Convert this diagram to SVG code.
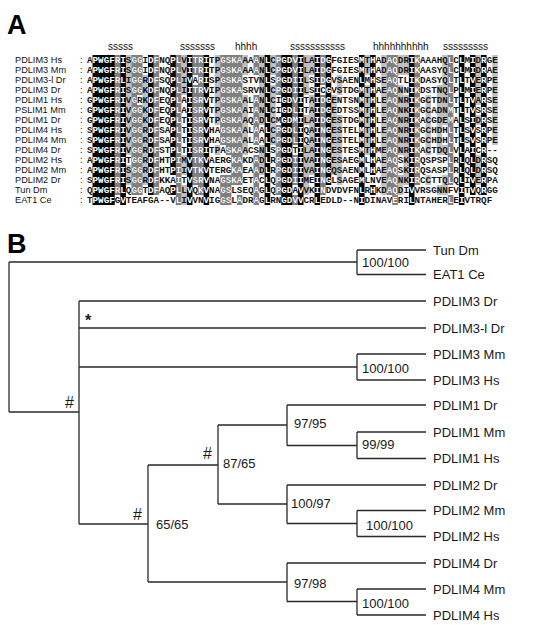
<svg xmlns="http://www.w3.org/2000/svg" xmlns:xlink="http://www.w3.org/1999/xlink" width="546" height="625" viewBox="0 0 546 625">
<style>
.panel{font-family:"Liberation Sans",Arial,sans-serif;font-weight:bold;fill:#000}
.lab{font-family:"Liberation Sans",Arial,sans-serif;font-size:9.2px;fill:#111}
.ss{font-family:"Liberation Sans",Arial,sans-serif;font-size:10px;fill:#111}
.seq{font-family:"Liberation Mono","Courier New",monospace;font-size:9.25px;font-weight:bold}
.leaf{font-family:"Liberation Sans",Arial,sans-serif;font-size:13px;fill:#1a1a1a}
.sup{font-family:"Liberation Sans",Arial,sans-serif;font-size:13px;fill:#1a1a1a}
.mark{font-family:"Liberation Sans",Arial,sans-serif;font-size:16px;fill:#1a1a1a}
.br{fill:none;stroke:#2a2a2a;stroke-width:1.3}
</style>
<defs>
<path id="blk" d="M92.55 55h22.2V205h-22.2z M120.3 55h5.6V205h-5.6z M148.05 55h5.6V195h-5.6z M170.25 55h5.6V175h-5.6z M170.25 185h5.6v10h-5.6z M186.9 55h5.6V205h-5.6z M203.55 55h5.6V205h-5.6z M264.6 55h5.6V205h-5.6z M281.25 55h11.15V205h-11.15z M297.9 55h5.6V205h-5.6z M314.55 55h5.6V205h-5.6z M325.65 55h5.6V185h-5.6z M358.95 55h5.6V205h-5.6z M370.05 55h5.6V175h-5.6z M370.05 185h5.6v10h-5.6z M408.9 55h5.6V205h-5.6z M458.85 55h5.6V205h-5.6z M469.95 55h5.6V195h-5.6z M481.05 55h5.6V195h-5.6z"/>
<path id="dgy" d="M114.75 55h5.6V195h-5.6z M131.4 55h5.6V195h-5.6z M136.95 55h5.6V95h-5.6z M136.95 105h5.6V195h-5.6z M153.6 55h5.6V195h-5.6z M175.8 55h5.6V205h-5.6z M192.45 55h5.6V75h-5.6z M192.45 85h5.6V185h-5.6z M198 55h5.6V195h-5.6z M220.2 55h5.6V145h-5.6z M220.2 175h5.6V205h-5.6z M225.75 55h5.6V155h-5.6z M225.75 175h5.6V205h-5.6z M231.3 55h5.6V185h-5.6z M236.85 55h5.6V185h-5.6z M236.85 195h5.6v10h-5.6z M253.5 55h5.6V75h-5.6z M253.5 95h5.6V145h-5.6z M253.5 155h5.6V205h-5.6z M275.7 55h5.6V95h-5.6z M275.7 125h5.6V195h-5.6z M292.35 55h5.6V145h-5.6z M292.35 155h5.6V185h-5.6z M292.35 195h5.6v10h-5.6z M320.1 55h5.6V85h-5.6z M320.1 95h5.6V195h-5.6z M386.7 55h5.6V195h-5.6z M392.25 55h5.6V205h-5.6z M414.45 55h5.6V185h-5.6z M447.75 55h5.6V185h-5.6z M447.75 195h5.6v10h-5.6z"/>
<path id="lgy" d="M125.85 55h5.6V155h-5.6z M125.85 165h5.6V185h-5.6z M142.5 75h5.6V185h-5.6z M181.35 55h5.6V95h-5.6z M181.35 155h5.6V175h-5.6z M181.35 185h5.6V205h-5.6z M214.65 55h5.6V125h-5.6z M214.65 145h5.6v10h-5.6z M242.4 55h5.6V75h-5.6z M242.4 95h5.6V155h-5.6z M259.05 55h5.6V125h-5.6z M259.05 145h5.6V175h-5.6z M270.15 55h5.6V75h-5.6z M270.15 85h5.6V145h-5.6z M303.45 55h5.6V95h-5.6z M303.45 115h5.6v10h-5.6z M303.45 145h5.6V195h-5.6z M309 55h5.6V75h-5.6z M309 95h5.6V175h-5.6z M331.2 95h5.6V175h-5.6z M336.75 75h5.6V95h-5.6z M336.75 115h5.6V185h-5.6z M364.5 55h5.6V75h-5.6z M364.5 85h5.6V155h-5.6z M381.15 55h5.6V195h-5.6z M397.8 55h5.6V75h-5.6z M397.8 85h5.6V155h-5.6z M397.8 175h5.6V195h-5.6z M403.35 55h5.6V75h-5.6z M403.35 95h5.6V185h-5.6z M425.55 95h5.6V155h-5.6z M425.55 175h5.6v10h-5.6z M436.65 85h5.6V155h-5.6z M436.65 185h5.6v10h-5.6z M442.2 55h5.6V125h-5.6z M442.2 145h5.6v10h-5.6z M442.2 175h5.6V195h-5.6z M475.5 55h5.6V105h-5.6z M475.5 115h5.6v10h-5.6z M475.5 155h5.6V185h-5.6z M492.15 55h5.6V145h-5.6z"/>
<clipPath id="inv"><use href="#blk"/><use href="#dgy"/></clipPath>
</defs>
<rect width="546" height="625" fill="#fff"/>

<!-- Panel A -->
<g id="panelA">
<text class="panel" x="7" y="34" font-size="27">A</text>
<g id="structure-marks">
<text class="ss" x="108" y="50">sssss</text>
<text class="ss" x="180" y="50">sssssss</text>
<text class="ss" x="235" y="50">hhhh</text>
<text class="ss" x="290" y="50">sssssssssss</text>
<text class="ss" x="373" y="50">hhhhhhhhhh</text>
<text class="ss" x="443" y="50">sssssssss</text>
</g>
<g id="shading">
<use href="#lgy" fill="#c0c0c0"/>
<use href="#dgy" fill="#7f7f7f"/>
<use href="#blk" fill="#000"/>
</g>
<g id="seq-labels" class="lab">
<text x="15" y="63.3">PDLIM3 Hs</text><text x="80" y="63.3">:</text>
<text x="15" y="73.3">PDLIM3 Mm</text><text x="80" y="73.3">:</text>
<text x="15" y="83.3">PDLIM3-l Dr</text><text x="80" y="83.3">:</text>
<text x="15" y="93.3">PDLIM3 Dr</text><text x="80" y="93.3">:</text>
<text x="15" y="103.3">PDLIM1 Hs</text><text x="80" y="103.3">:</text>
<text x="15" y="113.3">PSLIM1 Mm</text><text x="80" y="113.3">:</text>
<text x="15" y="123.3">PDLIM1 Dr</text><text x="80" y="123.3">:</text>
<text x="15" y="133.3">PDLIM4 Hs</text><text x="80" y="133.3">:</text>
<text x="15" y="143.3">PDLIM4 Mm</text><text x="80" y="143.3">:</text>
<text x="15" y="153.3">PDLIM4 Dr</text><text x="80" y="153.3">:</text>
<text x="15" y="163.3">PDLIM2 Hs</text><text x="80" y="163.3">:</text>
<text x="15" y="173.3">PDLIM2 Mm</text><text x="80" y="173.3">:</text>
<text x="15" y="183.3">PDLIM2 Dr</text><text x="80" y="183.3">:</text>
<text x="15" y="193.3">Tun Dm</text><text x="80" y="193.3">:</text>
<text x="15" y="203.3">EAT1 Ce</text><text x="80" y="203.3">:</text>
</g>
<g fill="#111">
<g id="seqs" class="seq">
<text x="87" y="63.3">APWGFRISGGIDFNQPLVITRITPGSKAAAANLCPGDVILAIDGFGIESMTHADAQDRIKAAAHQLCLMIDRGE</text>
<text x="87" y="73.3">APWGFRISGGIDFNQPLVITRITPGSKAAAANLCPGDVILAIDGFGIESMTHADAQDRIKAASYQLCLMIDRAE</text>
<text x="87" y="83.3">APWGFRLIGGRDFSQPLIVARISPGSKASTVNLSPGDIILSIDGVSAENLMHSEAQTLIKDASYQLTLTVERPE</text>
<text x="87" y="93.3">APWGFRISGGKDFNQPLIITRVIPGSKASRVNLCPGDIILSICGVSTDGMTHAEAQNNIKDSTNQLPLMIERPE</text>
<text x="87" y="103.3">GPWGFRIVGRKDFEQPLAISRVTPGSKAALANLCIGDVITAIDGENTSNMTHLEAQNRIKGCTDNLTLTVARSE</text>
<text x="87" y="113.3">GPWGFRIVGGKDFEQPLAISRVTPGSKAAIANLCIGDLITAIDGEDTSSMTHLEAQNKIKGCADNMTLTVSRSE</text>
<text x="87" y="123.3">GPWGFRIVGGKDFEQPLTISRVTPGSKAAQADLCMGDMILAIDGESTDGMTHLEAQNRIKACGDEMALSIDRSE</text>
<text x="87" y="133.3">SPWGFRIVGGRDFSAPLTISRVHAGSKAALAALCPGDLIQAINGESTELMTHLEAQNRIKGCHDHLTLSVSRPE</text>
<text x="87" y="143.3">SPWGFRIVGGRDFSAPLTISRVHAGSKAALAALCPGDLIQAINGESTELMTHLEAQNRIKGCHDHLTLSVSRPE</text>
<text x="87" y="153.3">SPWGFRIVGGRDFSTPLTISRITPASKAACSNLSPGDTILAINGESTESMTHMEAQNRIKACTDQLVLAICR--</text>
<text x="87" y="163.3">APWGFRITGGRDFHTPIMVTKVAERGKAKDADLRPGDIIVAINGESAEGMLHAEAQSKIRQSPSPLRLQLDRSQ</text>
<text x="87" y="173.3">APWGFRISGGRDFHTPIIVTKVTERGKAEAADLRPGDIIVAINGQSAENMLHAEAQSKIRQSASPLRLQLDRSQ</text>
<text x="87" y="183.3">SPWGFRISGGRDFKKAITVSRVNAGSKAETACLQPGDIIMEINGLSAGEMLNVEAQNKIRCCTTQLQLIVERPA</text>
<text x="87" y="193.3">QPWGFRLQGGTDFAQPLLVQKVNAGSLSEQAGLQPGDAVVKINDVDVFNLRHKDAQDIVVRSGNNFVITVQRGG</text>
<text x="87" y="203.3">TPWGFGVTEAFGA--VLIVVNVIGGSLADRAGLRNGDVVCRLEDLD--NIDINAVERILNTAHERLEIVTRQF</text>
</g>
</g>
<use href="#seqs" fill="#fff" clip-path="url(#inv)"/>
</g>

<!-- Panel B -->
<text class="panel" x="7" y="253" font-size="27">B</text>

<g id="connectors" class="br">
<path d="M9 262V412"/>
<path d="M9 262H357M357 250V274.5M357 250H426M357 274.5H426"/>
<path d="M9 412H79M79 301V524"/>
<path d="M79 301H426M79 328H426"/>
<path d="M79 367H357M357 354V380M357 354H426M357 380H426"/>
<path d="M79 524H148M148 465V582"/>
<path d="M148 465H218M218 425V504"/>
<path d="M218 425H287M287 405V445.5M287 405H426"/>
<path d="M287 445.5H357M357 432V458.5M357 432H426M357 458.5H426"/>
<path d="M218 504H287M287 485V523.5M287 485H426"/>
<path d="M287 523.5H357M357 510.5V536.5M357 510.5H426M357 536.5H426"/>
<path d="M148 582H287M287 563V601.5M287 563H426"/>
<path d="M287 601.5H357M357 589V615M357 589H426M357 615H426"/>
</g>

<g id="leaf-tun"><text class="leaf" x="433" y="254.7">Tun Dm</text></g>
<g id="leaf-eat1"><text class="leaf" x="433" y="279.2">EAT1 Ce</text></g>
<g id="leaf-pdlim3-dr"><text class="leaf" x="433" y="305.7">PDLIM3 Dr</text></g>
<g id="leaf-pdlim3l-dr"><text class="leaf" x="433" y="332.7">PDLIM3-l Dr</text></g>
<g id="leaf-pdlim3-mm"><text class="leaf" x="433" y="358.7">PDLIM3 Mm</text></g>
<g id="leaf-pdlim3-hs"><text class="leaf" x="433" y="384.7">PDLIM3 Hs</text></g>
<g id="leaf-pdlim1-dr"><text class="leaf" x="433" y="409.7">PDLIM1 Dr</text></g>
<g id="leaf-pdlim1-mm"><text class="leaf" x="433" y="436.7">PDLIM1 Mm</text></g>
<g id="leaf-pdlim1-hs"><text class="leaf" x="433" y="463.2">PDLIM1 Hs</text></g>
<g id="leaf-pdlim2-dr"><text class="leaf" x="433" y="489.7">PDLIM2 Dr</text></g>
<g id="leaf-pdlim2-mm"><text class="leaf" x="433" y="515.2">PDLIM2 Mm</text></g>
<g id="leaf-pdlim2-hs"><text class="leaf" x="433" y="541.2">PDLIM2 Hs</text></g>
<g id="leaf-pdlim4-dr"><text class="leaf" x="433" y="567.7">PDLIM4 Dr</text></g>
<g id="leaf-pdlim4-mm"><text class="leaf" x="433" y="593.7">PDLIM4 Mm</text></g>
<g id="leaf-pdlim4-hs"><text class="leaf" x="433" y="619.7">PDLIM4 Hs</text></g>

<g id="node-tun-eat1"><text class="sup" x="362" y="267">100/100</text></g>
<g id="node-pdlim3-dr"><text class="mark" x="85" y="325.5" font-weight="bold">*</text></g>
<g id="node-root"><text class="mark" x="65" y="408">#</text></g>
<g id="node-pdlim3-mmhs"><text class="sup" x="362" y="373">100/100</text></g>
<g id="node-pdlim124"><text class="mark" x="133" y="520">#</text><text class="sup" x="156" y="529">65/65</text></g>
<g id="node-pdlim12"><text class="mark" x="203" y="459">#</text><text class="sup" x="223" y="468">87/65</text></g>
<g id="node-pdlim1"><text class="sup" x="294" y="428">97/95</text></g>
<g id="node-pdlim1-mmhs"><text class="sup" x="362" y="449">99/99</text></g>
<g id="node-pdlim2"><text class="sup" x="291" y="508">100/97</text></g>
<g id="node-pdlim2-mmhs"><text class="sup" x="366" y="530">100/100</text></g>
<g id="node-pdlim4"><text class="sup" x="294" y="588">97/98</text></g>
<g id="node-pdlim4-mmhs"><text class="sup" x="362" y="608">100/100</text></g>
</svg>
